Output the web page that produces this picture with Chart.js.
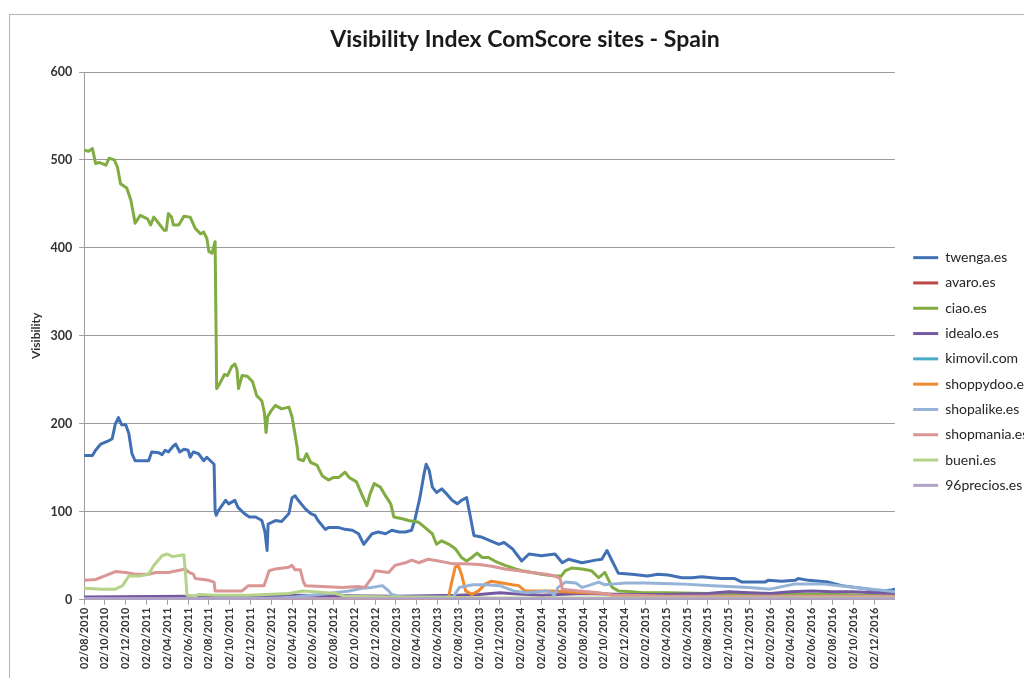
<!DOCTYPE html>
<html>
<head>
<meta charset="utf-8">
<script src="https://cdn.jsdelivr.net/npm/chart.js@4.4.0/dist/chart.umd.min.js"></script>
<style>
html,body{margin:0;padding:0;background:#fff;overflow:hidden;width:1024px;height:678px;}
#frame{position:absolute;left:9px;top:14px;width:2000px;height:2000px;border:1px solid #b5b5b5;}
#wrap{position:absolute;left:0;top:0;width:1040px;height:678px;}
</style>
</head>
<body>
<div id="frame"></div>
<div id="wrap"><canvas id="c" width="1040" height="678"></canvas></div>
<script>
// ---- data (x = months since 02/08/2010) ----
const chartTitle = 'Visibility Index ComScore sites - Spain';
const yTitle = 'Visibility';
const seriesNames = ['twenga.es','avaro.es','ciao.es','idealo.es','kimovil.com','shoppydoo.es','shopalike.es','shopmania.es','bueni.es','96precios.es'];
const seriesColors = ['#4171B4','#B94A48','#81AC42','#7559A0','#4BACC6','#F08A2E','#95B3D7','#D99694','#B5D38A','#B3A2C7'];
const xTickLabels = ['02/08/2010','02/10/2010','02/12/2010','02/02/2011','02/04/2011','02/06/2011','02/08/2011','02/10/2011','02/12/2011','02/02/2012','02/04/2012','02/06/2012','02/08/2012','02/10/2012','02/12/2012','02/02/2013','02/04/2013','02/06/2013','02/08/2013','02/10/2013','02/12/2013','02/02/2014','02/04/2014','02/06/2014','02/08/2014','02/10/2014','02/12/2014','02/02/2015','02/04/2015','02/06/2015','02/08/2015','02/10/2015','02/12/2015','02/02/2016','02/04/2016','02/06/2016','02/08/2016','02/10/2016','02/12/2016'];
const yTicks = [0,100,200,300,400,500,600];

const twengaX = [0,0.8,1.1,1.6,2.4,2.7,3.0,3.3,3.6,4.0,4.3,4.6,4.9,6.2,6.5,7.2,7.5,7.8,8.1,8.6,8.8,9.2,9.6,10.0,10.2,10.5,11.0,11.5,11.8,12.5,12.6,12.7,12.9,13.6,13.9,14.5,14.8,15.4,15.9,16.5,17.1,17.4,17.6,17.7,18.4,19.0,19.7,20.0,20.3,20.6,21.3,21.8,22.2,22.5,23.2,23.5,24.5,25.1,25.8,26.4,26.9,27.7,28.3,29.0,29.6,30.3,30.9,31.5,31.8,32.3,32.7,32.9,33.2,33.5,33.9,34.4,34.9,35.4,35.9,36.3,36.8,37.1,37.5,38.3,39.1,39.9,40.4,41.2,42.1,42.8,44.0,45.3,46.0,46.6,47.9,49.2,49.8,50.3,50.8,51.4,52.7,54.2,55.2,56.2,57.5,58.5,59.4,60.4,61.3,62.6,63.3,64.5,65.5,65.8,67.1,68.4,68.7,69.7,71.6,72.9,74.8,76.7,77.7,78];
const twengaY = [164,164,170,177,181,183,200,207,199,199,189,166,158,158,168,167,165,170,168,175,177,168,171,170,162,168,166,158,162,154,101,96,101,113,109,113,105,98,94,94,90,77,56,86,90,89,98,116,118,113,103,98,96,90,80,82,82,80,79,75,63,75,77,75,79,77,77,79,90,116,143,154,147,128,122,126,120,113,109,113,116,98,73,71,67,63,65,58,44,52,50,52,42,46,42,45,46,56,44,30,29,27,29,28,25,25,26,25,24,24,20,20,20,22,21,22,24,22,20,16,13,10,11,12];

const avaroX = [0,20,40,60,78];
const avaroY = [1,1,1,1,1];

const ciaoX = [0,0.45,0.8,1.1,1.5,2.1,2.4,2.9,3.2,3.5,4.1,4.5,4.8,4.9,5.4,6.1,6.4,6.7,7.3,7.7,7.9,8.1,8.4,8.6,9.1,9.6,10.2,10.7,11.2,11.5,11.8,12.0,12.3,12.6,12.75,13.1,13.5,13.8,14.2,14.5,14.7,14.85,15.2,15.7,16.2,16.6,17.1,17.35,17.5,17.65,18.0,18.4,19.0,19.7,20.0,20.5,20.6,21.1,21.4,21.8,22.4,22.9,23.5,24.0,24.5,25.1,25.5,26.2,26.7,27.2,27.5,27.9,28.5,29.0,29.5,29.8,30.6,31.2,32.2,32.8,33.5,33.9,34.4,35.1,35.7,36.3,36.8,37.3,37.8,38.3,38.9,39.5,40.5,41.5,42.1,43.1,44.0,45.3,45.9,46.3,46.9,47.9,48.8,49.5,50.1,50.8,51.4,52.7,53.7,56,60,64,68,72,76,78];
const ciaoY = [511,510,513,496,497,494,502,500,492,473,468,454,435,428,437,433,426,435,426,420,420,439,435,426,426,436,435,422,416,418,411,396,394,407,240,247,256,255,265,268,262,240,255,254,248,232,226,212,190,208,215,221,217,219,208,173,160,158,166,156,153,141,136,139,139,145,139,134,120,107,120,132,128,118,109,94,92,90,88,82,75,63,67,63,58,48,44,48,53,48,48,44,39,35,33,31,29,27,27,33,36,35,33,25,31,14,10,9,8,8,7,6,6,6,5,5];

const idealoX = [0,10,20,30,36,38,40,41,44,48,52,56,60,62,64,66,68,70,72,74,76,78];
const idealoY = [3,4,5,4,5,6,8,7,5,7,6,6,7,9,8,7,9,10,9,9,8,7];

const kimovilX = [0,40,48,60,70,78];
const kimovilY = [0,0,1,2,2,2];

const shoppydooX = [0,35.0,35.4,35.7,36.0,36.3,36.7,37.3,37.95,38.6,39.2,40.2,41.2,41.8,42.4,43.7,45.0,46.3,48.2,50.1,50.8,52,60,70,78];
const shoppydooY = [0,0,22,37,39,29,10,6,10,18,21,19,17,16,10,10,10,9,8,7,5,3,3,3,3];

const shopalikeX = [0,10,19,20.3,23.5,25.5,26.7,27.7,28.7,29.3,29.6,30.5,35.5,36.1,37.4,38.7,40,41.3,42.6,44.4,45,45.2,45.6,46.3,47.3,47.9,48.5,49.5,50.1,51.1,52.1,54,57.3,60.5,64,66,68.4,71,74.2,77.4,78];
const shopalikeY = [1,1,2,3,7,10,13,14,16,10,6,3,3,14,17,17,16,10,8,10,8,5,14,20,19,14,16,20,17,18,19,19,18,16,14,12,18,18,14,10,9];

const shopmaniaX = [0,1.1,2.0,3.0,4.0,4.9,6.2,6.9,8.1,9.4,9.7,10.1,10.5,10.7,12.0,12.5,12.6,13.9,15.2,15.8,17.3,17.8,18.4,19.7,20.0,20.3,20.8,21.1,21.3,22.9,24.8,26.4,27.0,27.7,28.0,29.3,29.9,30.9,31.5,32.2,33.1,34.1,35.4,36.7,38.0,39.2,40.5,41.8,43.1,44.4,45.3,45.8,46.0,47.6,49.5,50.8,52.7,56,78];
const shopmaniaY = [22,23,27,32,31,29,29,31,31,34,35,31,29,24,22,20,10,10,10,16,16,33,35,37,39,34,34,20,16,15,14,15,14,25,33,31,39,42,45,42,46,44,41,41,40,38,35,33,31,29,27,24,12,10,8,5,5,4,4];

const bueniX = [0,1.7,3.0,3.7,4.3,5.3,6.2,6.7,7.5,8.0,8.5,9.0,9.6,9.75,9.9,10.7,11.0,12.6,15.8,19.7,21.0,22.2,24.2,25.1,30,40,50,60,78];
const bueniY = [13,12,12,16,27,27,29,39,50,52,49,50,51,30,5,4,6,5,5,7,10,9,7,4,3,2,2,2,2];

const preciosX = [0,20,40,60,78];
const preciosY = [1,1,1,1,1];

const seriesX = [twengaX,avaroX,ciaoX,idealoX,kimovilX,shoppydooX,shopalikeX,shopmaniaX,bueniX,preciosX];
const seriesY = [twengaY,avaroY,ciaoY,idealoY,kimovilY,shoppydooY,shopalikeY,shopmaniaY,bueniY,preciosY];

// ---- chart ----
const FONT = 'Lato, "Open Sans", sans-serif';
const TXT = '#333333';
const GRID = '#9c9c9c';

const datasets = seriesNames.map((name, i) => ({
  label: name,
  data: seriesX[i].map((x, k) => ({x: x, y: seriesY[i][k]})),
  borderColor: seriesColors[i],
  backgroundColor: seriesColors[i],
  borderWidth: 3,
  pointRadius: 0,
  tension: 0,
  borderJoinStyle: 'round',
  borderCapStyle: 'round',
  order: seriesNames.length - i
}));

new Chart(document.getElementById('c'), {
  type: 'line',
  data: { datasets: datasets },
  options: {
    responsive: false,
    animation: false,
    devicePixelRatio: 1,
    layout: { padding: { left: 10, right: 0, top: 0, bottom: 6 } },
    plugins: {
      tooltip: { enabled: false },
      title: {
        display: true, text: chartTitle, color: '#1a1a1a',
        font: { family: FONT, size: 23, weight: 'bold' },
        padding: { top: 26, bottom: 18.4 }
      },
      legend: {
        position: 'right',
        align: 'center',
        title: { display: true, text: ' ', font: { family: FONT, size: 10 }, padding: { top: 29.5, bottom: 29.5 } },
        labels: {
          font: { family: FONT, size: 14 },
          color: '#262626',
          boxWidth: 25,
          boxHeight: 3,
          padding: 11.3,
          sort: (a, b) => a.datasetIndex - b.datasetIndex,
          generateLabels: (chart) => Chart.defaults.plugins.legend.labels.generateLabels(chart).map(l => Object.assign(l, { lineWidth: 0, fillStyle: l.strokeStyle }))
        }
      }
    },
    scales: {
      x: {
        type: 'linear', min: 0, max: 78,
        afterBuildTicks: (s) => { s.ticks = xTickLabels.map((_, i) => ({ value: i * 2 })); },
        ticks: {
          autoSkip: false, maxRotation: 90, minRotation: 90, padding: 3,
          color: TXT, font: { family: FONT, size: 11, weight: 'bold' },
          callback: (v) => xTickLabels[Math.round(v / 2)]
        },
        grid: { drawOnChartArea: false, drawTicks: true, tickLength: 5, color: GRID },
        border: { color: GRID }
      },
      y: {
        min: 0, max: 600,
        afterBuildTicks: (s) => { s.ticks = yTicks.map(v => ({ value: v })); },
        ticks: { padding: 7, color: TXT, font: { family: FONT, size: 12.5, weight: 'bold' } },
        grid: { color: GRID, tickLength: 5 },
        border: { color: GRID },
        title: { display: true, text: yTitle, color: TXT, font: { family: FONT, size: 12, weight: 'bold' }, padding: { top: 19, bottom: 0 } }
      },
      y2: {
        position: 'right', display: true,
        grid: { display: false }, border: { display: false }, ticks: { display: false },
        afterFit: (s) => { s.width = 7; }
      }
    }
  }
});
</script>
</body>
</html>
